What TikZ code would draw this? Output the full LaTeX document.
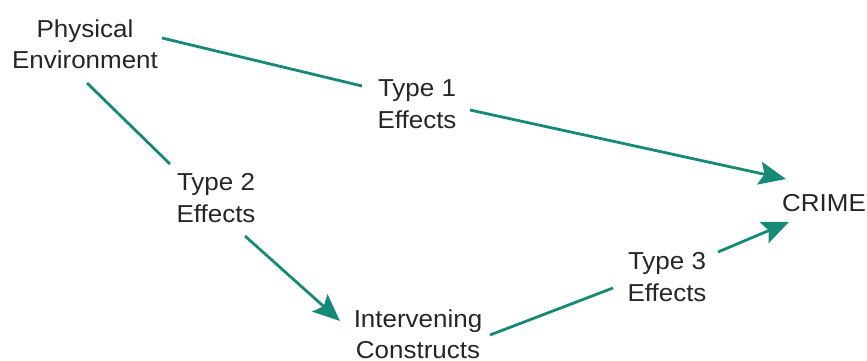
\documentclass[tikz,border=0pt]{standalone}
\usepackage{fontspec}
\setmainfont{Liberation Sans}[FakeStretch=1.06]
\usetikzlibrary{arrows.meta}
\definecolor{effectgreen}{HTML}{168A76}
\definecolor{labelgray}{HTML}{262626}
\begin{document}
\begin{tikzpicture}[x=1pt,y=-1pt,
  lbl/.style={inner sep=0pt,align=center,text=labelgray,
    font=\fontsize{24.5pt}{31.5pt}\selectfont},
  link/.style={draw=effectgreen,line width=2.8pt},
  linkarrow/.style={link,-{Stealth[length=27pt,width=23pt,inset=5pt]}}]
  \useasboundingbox (0,0) rectangle (867,361);

  % concepts and effect labels
  \node[lbl] (env)   at (85,44)   {Physical\\Environment};
  \node[lbl,anchor=west] (crime) at (782,203) {CRIME};
  \node[lbl] (inter) at (418,334) {Intervening\\Constructs};
  \node[lbl] (t1)    at (417,104) {Type 1\\Effects};
  \node[lbl] (t2)    at (216,198) {Type 2\\Effects};
  \node[lbl] (t3)    at (667,277) {Type 3\\Effects};

  % segment ends around the labels
  \coordinate (e1a) at (162,38);  \coordinate (e1b) at (362,86);
  \coordinate (e1c) at (470,110); \coordinate (e1d) at (786,179);
  \coordinate (e2a) at (87,83);   \coordinate (e2b) at (170,164);
  \coordinate (e2c) at (245,236); \coordinate (e2d) at (340,321);
  \coordinate (e3a) at (490,335); \coordinate (e3b) at (613,288);
  \coordinate (e3c) at (718,252); \coordinate (e3d) at (789,222);

  % Type 1: environment -> crime
  \draw[link] (e1a) -- (e1b);
  \draw[linkarrow] (e1c) -- (e1d);
  % Type 2: environment -> intervening constructs
  \draw[link] (e2a) -- (e2b);
  \draw[linkarrow] (e2c) -- (e2d);
  % Type 3: intervening constructs -> crime
  \draw[link] (e3a) -- (e3b);
  \draw[linkarrow] (e3c) -- (e3d);
\end{tikzpicture}
\end{document}
